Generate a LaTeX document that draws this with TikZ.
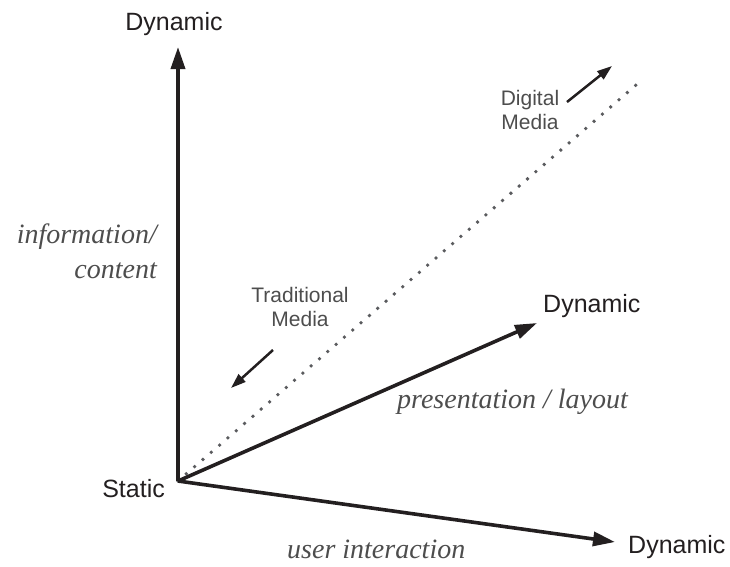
\documentclass[tikz,border=0pt]{standalone}
\usepackage{fontspec}
\setmainfont{Liberation Serif}
\setsansfont{Liberation Sans}
\usetikzlibrary{arrows.meta}
\definecolor{ink}{HTML}{231F20}
\definecolor{labelgray}{HTML}{4D4D4D}
\definecolor{dotgray}{HTML}{5A5B5E}

\begin{document}
\begin{tikzpicture}[x=1pt,y=-1pt,
  axis/.style={draw=ink, line width=3.6pt, -{Triangle[length=22pt,width=14pt]}},
  hint/.style={draw=ink, line width=2.5pt, -{Triangle[length=15pt,width=10pt]}},
  trend/.style={draw=dotgray, line width=3.8pt, line cap=round, dash pattern=on 0pt off 11pt},
  endlabel/.style={font=\sffamily\fontsize{25}{30}\selectfont, text=ink, inner sep=0pt},
  medialabel/.style={font=\sffamily\fontsize{21}{24.5}\selectfont, text=labelgray, align=center, inner sep=0pt},
  dimlabel/.style={font=\rmfamily\itshape\fontsize{28}{35}\selectfont, text=labelgray, inner sep=0pt},
]
\useasboundingbox (0,0) rectangle (730,566);

% axis origin and arrow ends
\coordinate (O) at (178,481);
\coordinate (topTip) at (178,47);
\coordinate (midTip) at (537,323);
\coordinate (lowTip) at (615,542);
\coordinate (trendEnd) at (643,79);

% diagonal trend from traditional to digital media
\draw[trend] (O) -- (trendEnd);

% the three axes
\draw[axis] (O) -- (topTip);
\draw[axis] (O) -- (midTip);
\draw[axis] (O) -- (lowTip);

% axis end labels
\node[endlabel, anchor=base] (dynTop) at (174,30) {Dynamic};
\node[endlabel, anchor=base west] (dynMid) at (543,312) {Dynamic};
\node[endlabel, anchor=base west] (dynLow) at (628,553) {Dynamic};
\node[endlabel, anchor=base east] (static) at (165,497) {Static};

% axis names
\node[dimlabel, anchor=north east, align=right] (info) at (157,224) {information/\\content};
\node[dimlabel, anchor=base west] (pres) at (397,408) {presentation / layout};
\node[dimlabel, anchor=base west] (user) at (287,558) {user interaction};

% media labels with direction hints
\node[medialabel, anchor=north] (digital) at (530,90) {Digital\\Media};
\coordinate (digFrom) at (567,102);
\coordinate (digTo) at (612,66);
\draw[hint] (digFrom) -- (digTo);

\node[medialabel, anchor=north] (trad) at (300,287) {Traditional\\Media};
\coordinate (tradFrom) at (273,350);
\coordinate (tradTo) at (231,388);
\draw[hint] (tradFrom) -- (tradTo);
\end{tikzpicture}
\end{document}
